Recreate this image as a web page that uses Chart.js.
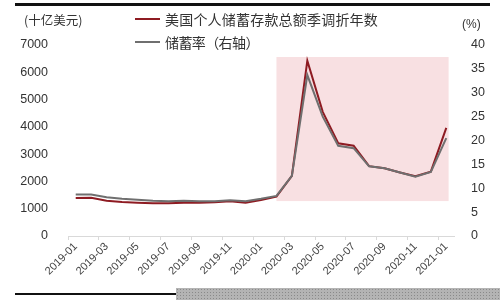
<!DOCTYPE html>
<html>
<head>
<meta charset="utf-8">
<script src="https://cdn.jsdelivr.net/npm/chart.js@4.4.1/dist/chart.umd.min.js"></script>
<style>
	html, body { margin: 0; padding: 0; background: #fff; }
	#wrap { position: relative; width: 500px; height: 300px; overflow: hidden; font-family: "Liberation Sans", Arial, sans-serif; }
	#chart { position: absolute; left: 0; top: 0; }
	.txt { position: absolute; color: #333; white-space: nowrap; }
	.cjk { font-family: "Noto Sans CJK SC", sans-serif; }
	.swatch { position: absolute; height: 2px; width: 25px; }
	#dots { position: absolute; left: 176px; top: 288px; width: 324px; height: 12px;
		background-color: #b4b4b4;
		background-image: radial-gradient(#8a8a8a 0.8px, transparent 1px);
		background-size: 3px 3px; }
</style>
</head>
<body>
<div id="wrap">
	<canvas id="chart" width="500" height="300"></canvas>
	<div id="dots"></div>
	<div class="txt cjk" style="left:24px; top:10px; font-size:12.5px;">(十亿美元)</div>
	<div class="txt" style="left:462px; top:17px; font-size:12px;">(%)</div>
	<div class="swatch" style="left:135px; top:18px; background:#8e1b22;"></div>
	<div class="txt cjk" style="left:165px; top:9px; font-size:14px; letter-spacing:0.2px;">美国个人储蓄存款总额季调折年数</div>
	<div class="swatch" style="left:135px; top:41px; background:#6f6f6f;"></div>
	<div class="txt cjk" style="left:165px; top:32px; font-size:14px; letter-spacing:-0.6px;">储蓄率（右轴）</div>
</div>
<script>
// months 2019-01 .. 2021-01
const months = [
	"2019-01", "2019-02", "2019-03", "2019-04", "2019-05", "2019-06", "2019-07", "2019-08", "2019-09",
	"2019-10", "2019-11", "2019-12", "2020-01", "2020-02", "2020-03", "2020-04", "2020-05", "2020-06",
	"2020-07", "2020-08", "2020-09", "2020-10", "2020-11", "2020-12", "2021-01",
];

// personal saving, SAAR, billions USD (left axis)
const savings = [
	1390, 1400, 1290, 1245, 1220, 1200, 1200, 1220, 1220, 1235, 1270, 1220, 1320,
	1440, 2200, 6420, 4550, 3400, 3310, 2560, 2480, 2330, 2190, 2360, 3960,
];

// saving rate, % (right axis)
const savingRate = [
	8.7, 8.7, 8.1, 7.8, 7.6, 7.4, 7.3, 7.4, 7.3, 7.3, 7.5, 7.3, 7.8,
	8.4, 12.6, 33.7, 25.0, 18.9, 18.4, 14.6, 14.2, 13.3, 12.4, 13.4, 20.5,
];

const leftTicks = [0, 1000, 2000, 3000, 4000, 5000, 6000, 7000];
const rightTicks = [0, 5, 10, 15, 20, 25, 30, 35, 40];

// shaded period (category index range, left-axis value range)
const shadeFrom = 13;
const shadeTo = 24.15;
const shadeTop = 6560;
const shadeBottom = 1280;

const shadePlugin = {
	id: "shade",
	beforeDatasetsDraw(chart) {
		const x = chart.scales.x;
		const y = chart.scales.y;
		const ctx = chart.ctx;
		const x0 = x.getPixelForValue(shadeFrom);
		const x1 = x.getPixelForValue(shadeTo);
		const y0 = y.getPixelForValue(shadeTop);
		const y1 = y.getPixelForValue(shadeBottom);
		ctx.save();
		ctx.fillStyle = "rgb(248, 224, 226)";
		ctx.fillRect(x0, y0, x1 - x0, y1 - y0);
		ctx.restore();
	},
};

// black rules at the top and bottom of the page
const rulesPlugin = {
	id: "rules",
	afterDraw(chart) {
		const ctx = chart.ctx;
		ctx.save();
		ctx.fillStyle = "#111";
		ctx.fillRect(15, 3, 475, 3);
		ctx.fillRect(15, 293, 161, 2);
		ctx.restore();
	},
};

const tickFont = { family: "'Liberation Sans', Arial, sans-serif", size: 12.5 };

new Chart(document.getElementById("chart"), {
	type: "line",
	data: {
		labels: months,
		datasets: [
			{
				label: "美国个人储蓄存款总额季调折年数",
				data: savings,
				yAxisID: "y",
				borderColor: "#8e1b22",
				borderWidth: 2,
				pointRadius: 0,
				tension: 0,
				order: 2,
			},
			{
				label: "储蓄率（右轴）",
				data: savingRate,
				yAxisID: "y1",
				borderColor: "#6f6f6f",
				borderWidth: 2,
				pointRadius: 0,
				tension: 0,
				order: 1,
			},
		],
	},
	options: {
		responsive: false,
		animation: false,
		layout: { padding: { left: 0, right: 0, top: 45, bottom: 0 } },
		plugins: {
			legend: { display: false },
			tooltip: { enabled: false },
		},
		scales: {
			x: {
				offset: true,
				border: { color: "#d9d9d9", width: 1 },
				grid: {
					offset: true,
					drawOnChartArea: false,
					tickLength: 4,
					color: (c) => (c.index % 2 === 0 ? "#d9d9d9" : "rgba(0,0,0,0)"),
				},
				ticks: {
					autoSkip: false,
					minRotation: 45,
					maxRotation: 45,
					padding: 0,
					color: "#444",
					font: { family: "'Liberation Sans', Arial, sans-serif", size: 11 },
					callback: (v, i) => (i % 2 === 0 ? months[i] : ""),
				},
				afterFit: (s) => { s.height = 64; },
			},
			y: {
				position: "left",
				min: 0,
				max: 7000,
				border: { display: false },
				grid: { display: false },
				afterBuildTicks: (s) => { s.ticks = leftTicks.map((v) => ({ value: v })); },
				ticks: { color: "#333", font: tickFont, padding: 12, callback: (v) => String(v) },
				afterFit: (s) => { s.width = 68; },
			},
			y1: {
				position: "right",
				min: 0,
				max: 40,
				border: { display: false },
				grid: { display: false },
				afterBuildTicks: (s) => { s.ticks = rightTicks.map((v) => ({ value: v })); },
				ticks: { color: "#333", font: tickFont, padding: 9, callback: (v) => String(v) },
				afterFit: (s) => { s.width = 46; },
			},
		},
	},
	plugins: [shadePlugin, rulesPlugin],
});
</script>
</body>
</html>
